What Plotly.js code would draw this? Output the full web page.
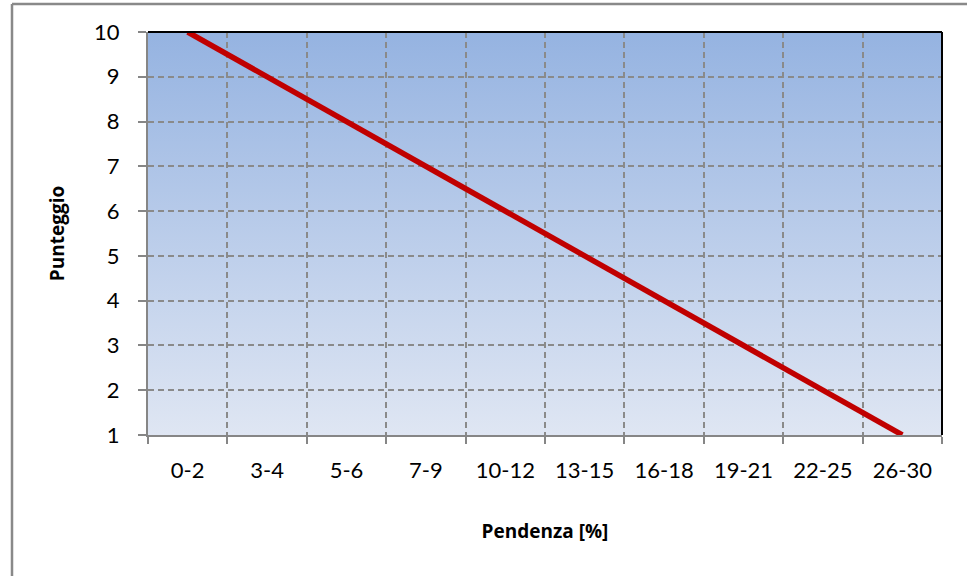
<!DOCTYPE html>
<html>
<head>
<meta charset="utf-8">
<script src="https://cdn.plot.ly/plotly-3.0.1.min.js"></script>
<style>html,body{margin:0;padding:0;background:#fff;}#chart{width:967px;height:576px;}</style>
</head>
<body>
<div id="chart"></div>
<script>
const categories = ["0-2","3-4","5-6","7-9","10-12","13-15","16-18","19-21","22-25","26-30"];
const punteggio = [10, 9, 8, 7, 6, 5, 4, 3, 2, 1];
const yTicks = [1,2,3,4,5,6,7,8,9,10];

const W = 967, H = 576, L = 148, R = 25, T = 32, B = 141;
const pw = W - L - R, ph = H - T - B;
const px = v => (v - L) / pw;
const py = v => (H - B - v) / ph;

const gradSvg = '<svg xmlns="http://www.w3.org/2000/svg" width="10" height="100" preserveAspectRatio="none">' +
  '<defs><linearGradient id="g" x1="0" y1="0" x2="0" y2="1">' +
  '<stop offset="0" stop-color="#95b3e1"/><stop offset="1" stop-color="#dfe6f3"/></linearGradient></defs>' +
  '<rect width="10" height="100" fill="url(#g)"/></svg>';
const gradUri = 'data:image/svg+xml;base64,' + btoa(gradSvg);

const font = "Lato, 'Open Sans', sans-serif";
const tfont = "'Open Sans', sans-serif";

const trace = {
  x: categories, y: punteggio, type: 'scatter', mode: 'lines',
  line: {color: '#c00000', width: 5.5}, hoverinfo: 'skip', showlegend: false, cliponaxis: true
};

const layout = {
  width: W, height: H,
  margin: {l: L, r: R, t: T, b: B, pad: 0},
  paper_bgcolor: '#ffffff', plot_bgcolor: 'rgba(0,0,0,0)',
  font: {family: font, color: '#000', size: 22},
  xaxis: {
    type: 'category', range: [-0.5, 9.5], fixedrange: true,
    tickson: 'boundaries', ticks: 'outside', ticklen: 7, tickwidth: 2, tickcolor: '#868686',
    showgrid: true, gridcolor: '#8a8a8a', gridwidth: 2, griddash: '6px,4px',
    showline: true, linecolor: '#868686', linewidth: 2,
    tickfont: {family: font, size: 22, color: '#000'},
    ticklabelstandoff: 15,
    title: {text: '<b>Pendenza [%]</b>', font: {family: tfont, size: 19, color: '#000'}, standoff: 42},
    zeroline: false
  },
  yaxis: {
    range: [1, 10], tickvals: yTicks, fixedrange: true,
    ticks: 'outside', ticklen: 8, tickwidth: 2, tickcolor: '#868686',
    showgrid: true, gridcolor: '#8a8a8a', gridwidth: 2, griddash: '6px,4px',
    showline: true, linecolor: '#868686', linewidth: 2,
    tickfont: {family: font, size: 22, color: '#000'},
    ticklabelstandoff: 14,
    title: {text: '<b>Punteggio</b>', font: {family: tfont, size: 19, color: '#000'}, standoff: 24},
    zeroline: false
  },
  images: [{
    source: gradUri, xref: 'paper', yref: 'paper', x: 0, y: 1, sizex: 1, sizey: 1,
    sizing: 'stretch', xanchor: 'left', yanchor: 'top', layer: 'below'
  }],
  shapes: [
    {type: 'line', xref: 'paper', yref: 'paper', x0: 0, x1: 1, y0: 1, y1: 1, line: {color: '#000', width: 2}, layer: 'above'},
    {type: 'line', xref: 'paper', yref: 'paper', x0: 1, x1: 1, y0: 0, y1: 1, line: {color: '#000', width: 2}, layer: 'above'},
    {type: 'line', xref: 'paper', yref: 'paper', x0: px(12), x1: px(980), y0: py(4), y1: py(4), line: {color: '#898989', width: 2.5}},
    {type: 'line', xref: 'paper', yref: 'paper', x0: px(12), x1: px(12), y0: py(4), y1: py(590), line: {color: '#898989', width: 2.5}}
  ]
};

Plotly.newPlot('chart', [trace], layout, {displayModeBar: false, staticPlot: true});
</script>
</body>
</html>
